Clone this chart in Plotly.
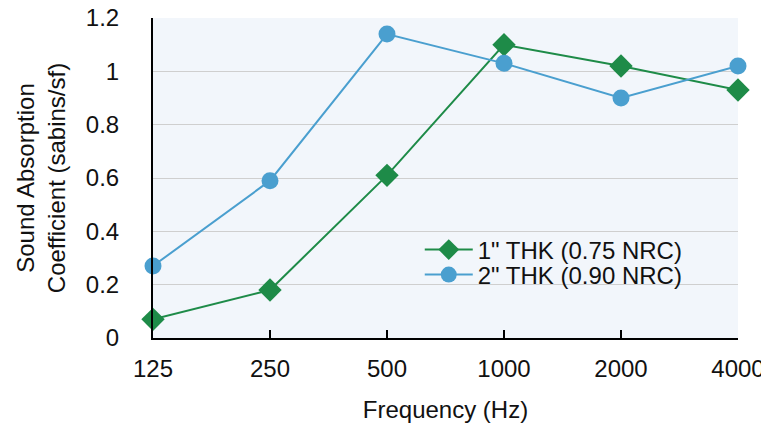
import plotly.graph_objects as go

freqs = ["125", "250", "500", "1000", "2000", "4000"]
thk1 = [0.07, 0.18, 0.61, 1.10, 1.02, 0.93]
thk2 = [0.27, 0.59, 1.14, 1.03, 0.90, 1.02]
names = ['1" THK (0.75 NRC)', '2" THK (0.90 NRC)']

fig = go.Figure()
fig.add_trace(go.Scatter(x=freqs, y=thk1, name=names[0], mode="lines+markers",
                         line=dict(color="#1E8B48", width=2),
                         marker=dict(symbol="diamond", size=18, color="#1E8B48"),
                         cliponaxis=False, legend="legend"))
fig.add_trace(go.Scatter(x=freqs, y=thk2, name=names[1], mode="lines+markers",
                         line=dict(color="#4A9FCF", width=2),
                         marker=dict(symbol="circle", size=17, color="#4A9FCF"),
                         cliponaxis=False, legend="legend2"))

font = "Liberation Sans, Arial, sans-serif"
leg = dict(x=0.456, xanchor="left", yanchor="middle",
           bgcolor="rgba(0,0,0,0)", font=dict(size=24), itemwidth=48)
# The page body has an 8px margin, so the figure is sized to fit the 769x425 window.
fig.update_layout(
    width=761, height=417,
    margin=dict(l=145, r=31, t=10, b=87),
    paper_bgcolor="white", plot_bgcolor="#F2F6FB",
    font=dict(family=font, size=24, color="#111111"),
    showlegend=True,
    legend=dict(y=0.275, **leg),
    legend2=dict(y=0.197, **leg),
    xaxis=dict(type="category", range=[0, 5], showgrid=False, automargin=False,
               showline=True, linecolor="black", linewidth=2,
               ticks="inside", ticklen=8, tickwidth=2, tickcolor="black",
               ticklabelstandoff=8,
               title=dict(text="Frequency (Hz)", standoff=20, font=dict(size=24)),
               tickfont=dict(size=24)),
    yaxis=dict(range=[0, 1.2001], tickvals=[0, 0.2, 0.4, 0.6, 0.8, 1.0, 1.2],
               ticktext=["0", "0.2", "0.4", "0.6", "0.8", "1", "1.2"],
               ticklabeloverflow="allow",
               showgrid=True, gridcolor="#CFCFCF", gridwidth=1, automargin=False,
               showline=True, linecolor="black", linewidth=2, zeroline=False,
               ticks="", ticklabelstandoff=27,
               title=dict(text="Sound Absorption<br>Coefficient (sabins/sf)", standoff=13,
                          font=dict(size=24)),
               tickfont=dict(size=24)),
)

fig.write_html("out.html")
